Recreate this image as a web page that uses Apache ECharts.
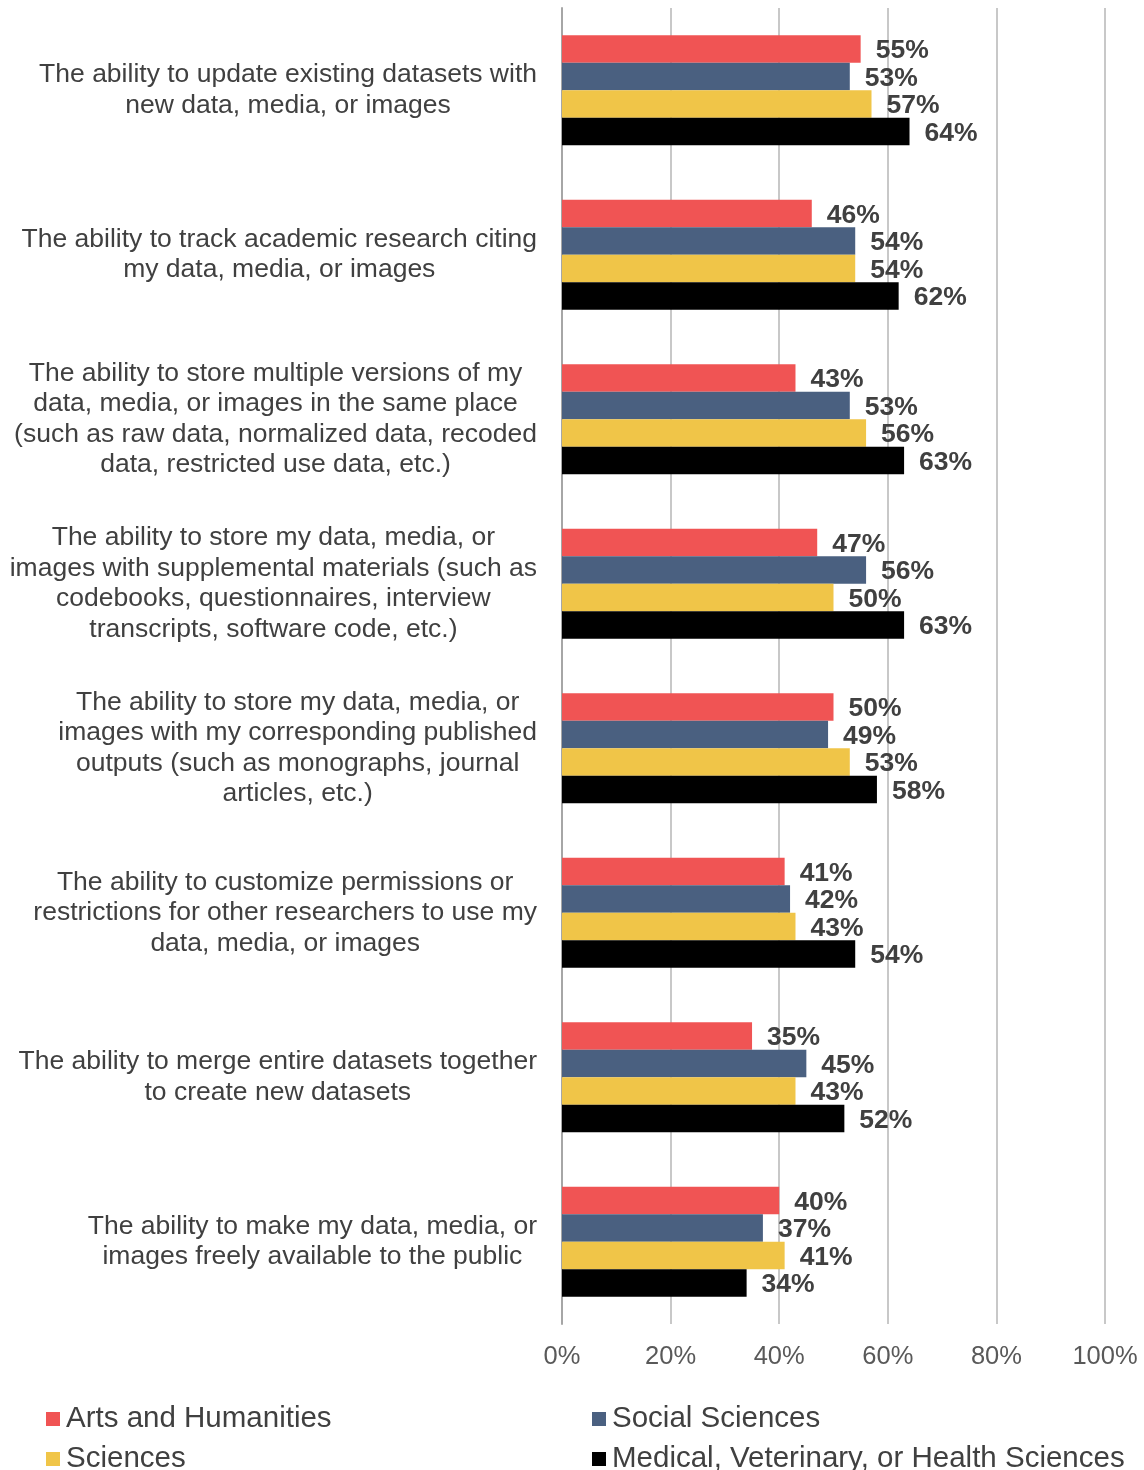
<!DOCTYPE html>
<html>
<head>
<meta charset="utf-8">
<script src="https://cdn.jsdelivr.net/npm/echarts@6/dist/echarts.min.js"></script>
<style>
html,body{margin:0;padding:0;background:#fff;}
#chart{width:1144px;height:1470px;}
</style>
</head>
<body>
<div id="chart"></div>
<script>
const categories = [
  "The ability to update existing datasets with\nnew data, media, or images",
  "The ability to track academic research citing\nmy data, media, or images",
  "The ability to store multiple versions of my\ndata, media, or images in the same place\n(such as raw data, normalized data, recoded\ndata, restricted use data, etc.)",
  "The ability to store my data, media, or\nimages with supplemental materials (such as\ncodebooks, questionnaires, interview\ntranscripts, software code, etc.)",
  "The ability to store my data, media, or\nimages with my corresponding published\noutputs (such as monographs, journal\narticles, etc.)",
  "The ability to customize permissions or\nrestrictions for other researchers to use my\ndata, media, or images",
  "The ability to merge entire datasets together\nto create new datasets",
  "The ability to make my data, media, or\nimages freely available to the public"
];
const seriesNames = ["Arts and Humanities", "Social Sciences", "Sciences", "Medical, Veterinary, or Health Sciences"];
const artsHumanities = [55, 46, 43, 47, 50, 41, 35, 40];
const socialSciences = [53, 54, 53, 56, 49, 42, 45, 37];
const sciences = [57, 54, 56, 50, 53, 43, 43, 41];
const medical = [64, 62, 63, 63, 58, 54, 52, 34];
const xTicks = [0, 20, 40, 60, 80, 100];

const colors = ["#F05454", "#4A6080", "#F0C548", "#000000"];
const font = "'Liberation Sans', Arial, sans-serif";
const textColor = "#404040";

const values = [artsHumanities, socialSciences, sciences, medical];
const series = seriesNames.map((name, i) => ({
  name: name,
  type: 'bar',
  data: values[i],
  barGap: '0%',
  barCategoryGap: '33%',
  itemStyle: { color: colors[i] },
  label: {
    show: true,
    position: 'right',
    distance: 15,
    offset: [0, 2],
    formatter: '{c}%',
    fontFamily: font,
    fontWeight: 'bold',
    fontSize: 26.5,
    color: textColor
  }
}));

const legendPos = [
  { left: 46, top: 1404 },
  { left: 592, top: 1404 },
  { left: 46, top: 1444 },
  { left: 592, top: 1444 }
];
const legends = seriesNames.map((name, i) => ({
  data: [name],
  left: legendPos[i].left,
  top: legendPos[i].top,
  padding: 0,
  itemWidth: 14,
  itemHeight: 14,
  icon: 'rect',
  selectedMode: false,
  textStyle: { fontFamily: font, fontSize: 29.5, color: textColor, padding: [0, 0, 0, 1] }
}));

const chart = echarts.init(document.getElementById('chart'), null, { renderer: 'canvas' });
chart.setOption({
  animation: false,
  backgroundColor: '#ffffff',
  color: colors,
  legend: legends,
  grid: { left: 562, right: 39, top: 8, bottom: 146, containLabel: false },
  xAxis: {
    type: 'value',
    min: xTicks[0],
    max: xTicks[xTicks.length - 1],
    interval: xTicks[1] - xTicks[0],
    axisLine: { show: false },
    axisTick: { show: false },
    splitLine: { show: true, lineStyle: { color: '#c8c8c8', width: 2 } },
    axisLabel: {
      formatter: '{value}%',
      fontFamily: font,
      fontSize: 25.5,
      color: '#595959',
      margin: 20
    }
  },
  yAxis: {
    type: 'category',
    inverse: true,
    data: categories,
    axisLine: { show: true, lineStyle: { color: '#a6a6a6', width: 2 } },
    axisTick: { show: false },
    axisLabel: {
      margin: 25,
      align: 'right',
      formatter: function (v) { return '{c|' + v + '}'; },
      rich: {
        c: {
          align: 'center',
          fontFamily: font,
          fontSize: 26.5,
          lineHeight: 30.5,
          color: textColor
        }
      }
    }
  },
  series: series
});
</script>
</body>
</html>
